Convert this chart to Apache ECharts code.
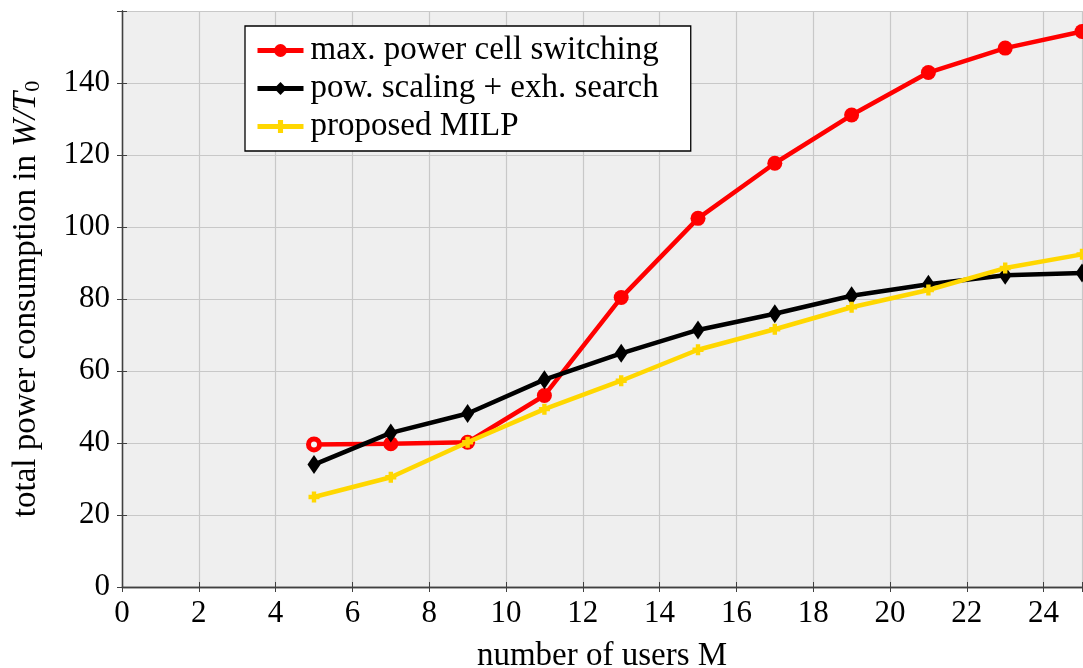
<!DOCTYPE html>
<html><head><meta charset="utf-8">
<script src="https://cdn.jsdelivr.net/npm/echarts@6/dist/echarts.min.js"></script>
<style>html,body{margin:0;padding:0;background:#fff}#c{width:1083px;height:668px}</style>
</head><body><div id="c"></div>
<script>
const users = [5, 7, 9, 11, 13, 15, 17, 19, 21, 23, 25];
const maxPowerCellSwitching = [39.6, 39.8, 40.2, 53.2, 80.4, 102.4, 117.7, 131.1, 142.9, 149.7, 154.3];
const powScalingExhSearch = [34.0, 42.8, 48.2, 57.6, 64.9, 71.4, 75.9, 80.9, 84.1, 86.6, 87.2];
const proposedMILP = [25.0, 30.5, 40.2, 49.4, 57.3, 65.9, 71.6, 77.7, 82.5, 88.6, 92.4];
const seriesNames = ['max. power cell switching', 'pow. scaling + exh. search', 'proposed MILP'];
const xTicks = [0, 2, 4, 6, 8, 10, 12, 14, 16, 18, 20, 22, 24];
const yTicks = [0, 20, 40, 60, 80, 100, 120, 140];

const FONT = 'Liberation Serif';
const pair = arr => users.map((u, i) => [u, arr[i]]);
const plusPath = 'path://M3,0H7V3H10V7H7V10H3V7H0V3H3Z';

const chart = echarts.init(document.getElementById('c'));
const baseAxisX = {
  type: 'value', min: 0, max: 25, interval: 2,
  axisLine: { show: true, lineStyle: { color: '#404040', width: 1.3 } },
  axisTick: { show: true, inside: true, length: 5, lineStyle: { color: '#404040' } },
  splitLine: { show: false }
};
const baseAxisY = {
  type: 'value', min: 0, max: 160, interval: 20,
  axisLine: { show: true, lineStyle: { color: '#404040', width: 1.3 } },
  axisTick: { show: true, inside: true, length: 5, lineStyle: { color: '#404040' } },
  splitLine: { show: false }
};
const redData = pair(maxPowerCellSwitching).map((p, i) => i === 0
  ? { value: p, symbolSize: 11, itemStyle: { color: '#f4f4f4', borderColor: '#ff0000', borderWidth: 5 } }
  : p);
chart.setOption({
  animation: false,
  textStyle: { fontFamily: FONT },
  grid: { left: 122, right: 1, top: 11, bottom: 81, show: true, backgroundColor: '#efefef',
    borderWidth: 0, containLabel: false, outerBoundsMode: 'none' },
  xAxis: [
    Object.assign({}, baseAxisX, {
      position: 'bottom',
      name: 'number of users M', nameLocation: 'middle', nameGap: 53,
      nameTextStyle: { fontFamily: FONT, fontSize: 33, color: '#000' },
      axisLabel: { fontFamily: FONT, fontSize: 31, color: '#000', margin: 11,
        formatter: v => xTicks.includes(v) ? String(v) : '' },
      splitLine: { show: true, lineStyle: { color: '#c8c8c8', width: 1.2 } }
    }),
    Object.assign({}, baseAxisX, { position: 'top', axisLabel: { show: false } })
  ],
  yAxis: [
    Object.assign({}, baseAxisY, {
      position: 'left',
      name: '{n|total power consumption in }{i|W/T}{s|0}', nameLocation: 'middle', nameGap: 78,
      nameTextStyle: { fontFamily: FONT, fontSize: 33, color: '#000',
        rich: {
          n: { fontFamily: FONT, fontSize: 33, color: '#000' },
          i: { fontFamily: FONT, fontSize: 33, fontStyle: 'italic', color: '#000' },
          s: { fontFamily: FONT, fontSize: 22, color: '#000', padding: [14, 0, 0, 0] }
        } },
      axisLabel: { fontFamily: FONT, fontSize: 31, color: '#000', margin: 12,
        formatter: v => yTicks.includes(v) ? String(v) : '' },
      splitLine: { show: true, lineStyle: { color: '#c8c8c8', width: 1.2 } }
    }),
    Object.assign({}, baseAxisY, { position: 'right', axisLabel: { show: false } })
  ],
  legend: {
    left: 245, top: 26, orient: 'vertical',
    backgroundColor: '#fff', borderColor: '#000', borderWidth: 1.3,
    padding: [8, 32, 8, 10], itemGap: 5, itemWidth: 46, itemHeight: 16,
    lineStyle: { width: 5 },
    textStyle: { fontFamily: FONT, fontSize: 33, color: '#000', padding: [0, 0, 0, 2] },
    data: seriesNames
  },
  series: [
    { name: seriesNames[0], type: 'line', data: redData, z: 2,
      symbol: 'circle', symbolSize: 15,
      lineStyle: { color: '#ff0000', width: 4.5 }, itemStyle: { color: '#ff0000' } },
    { name: seriesNames[1], type: 'line', data: pair(powScalingExhSearch), z: 3,
      symbol: 'diamond', symbolSize: [13, 19],
      lineStyle: { color: '#000', width: 4.5 }, itemStyle: { color: '#000' } },
    { name: seriesNames[2], type: 'line', data: pair(proposedMILP), z: 4,
      symbol: plusPath, symbolSize: 11,
      lineStyle: { color: '#ffd700', width: 4.5 }, itemStyle: { color: '#ffd700' } }
  ]
});
</script></body></html>
